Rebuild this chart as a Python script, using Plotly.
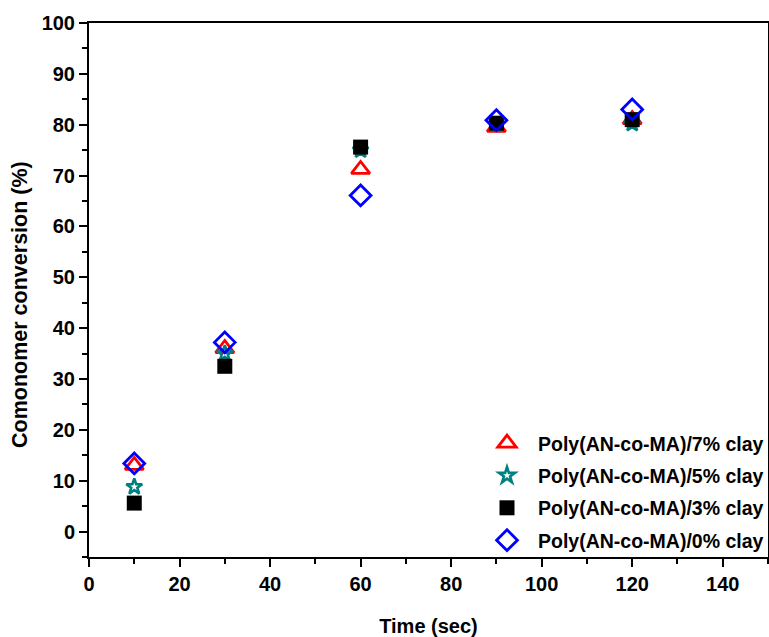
import plotly.graph_objects as go

# Reaction time (sec)
time_sec = [10, 30, 60, 90, 120]

# Comonomer conversion (%) for each clay loading
conv_7 = [13.0, 36.0, 71.2, 79.5, 81.0]
conv_5 = [8.8, 35.0, 75.0, 80.0, 80.2]
conv_3 = [5.6, 32.5, 75.6, 80.3, 81.0]
conv_0 = [13.4, 37.2, 66.1, 80.9, 83.0]

series_names = [
    "Poly(AN-co-MA)/7% clay",
    "Poly(AN-co-MA)/5% clay",
    "Poly(AN-co-MA)/3% clay",
    "Poly(AN-co-MA)/0% clay",
]

x_ticks = [0, 20, 40, 60, 80, 100, 120, 140]
y_ticks = [0, 10, 20, 30, 40, 50, 60, 70, 80, 90, 100]

FONT = "Liberation Sans, Arial, sans-serif"

styles = [
    dict(symbol="triangle-up-open", color="#ff0000", size=16, line=dict(width=2.8, color="#ff0000")),
    dict(symbol="star-open", color="#008080", size=12, line=dict(width=2.6, color="#008080")),
    dict(symbol="square", color="#000000", size=15, line=dict(width=0, color="#000000")),
    dict(symbol="diamond-open", color="#0000ff", size=16, line=dict(width=2.8, color="#0000ff")),
]

fig = go.Figure()
for name, ys, st in zip(series_names, [conv_7, conv_5, conv_3, conv_0], styles):
    fig.add_trace(go.Scatter(
        x=time_sec, y=ys, mode="markers", name=name,
        legendgroup=name,
        marker=st,
    ))

axis_common = dict(
    showline=True, linecolor="black", linewidth=2, mirror=True,
    ticks="outside", ticklen=8, tickwidth=2, tickcolor="black",
    showgrid=False, zeroline=False,
    tickfont=dict(family=FONT, size=20, color="black", weight="bold"),
)

fig.update_xaxes(
    range=[0, 150], tickvals=x_ticks,
    minor=dict(dtick=10, ticks="outside", ticklen=5, tickwidth=2, tickcolor="black", showgrid=False),
    title=dict(text="Time (sec)", font=dict(family=FONT, size=20, color="black", weight="bold"), standoff=26),
    **axis_common,
)
fig.update_yaxes(
    range=[-5, 100], tickvals=y_ticks,
    minor=dict(dtick=5, ticks="outside", ticklen=5, tickwidth=2, tickcolor="black", showgrid=False),
    **axis_common,
)

# Y-axis title as a rotated annotation, placed slightly below the axis midpoint
fig.add_annotation(
    text="Comonomer conversion (%)", textangle=-90,
    xref="paper", yref="paper", x=-0.1016, y=0.472,
    xanchor="center", yanchor="middle", showarrow=False,
    font=dict(family=FONT, size=21.5, color="black", weight="bold"),
)

fig.update_layout(
    width=769, height=637,
    margin=dict(l=89, r=1, t=23, b=80, autoexpand=False),
    paper_bgcolor="white", plot_bgcolor="white",
    showlegend=True,
    legend=dict(
        xref="container", yref="container",
        x=1.0, y=0.121, xanchor="right", yanchor="bottom",
        bgcolor="rgba(0,0,0,0)", borderwidth=0,
        font=dict(family=FONT, size=19.5, color="black", weight="bold"),
        traceorder="grouped", tracegroupgap=4,
        itemwidth=52,
    ),
)

fig.write_html("out.html")
